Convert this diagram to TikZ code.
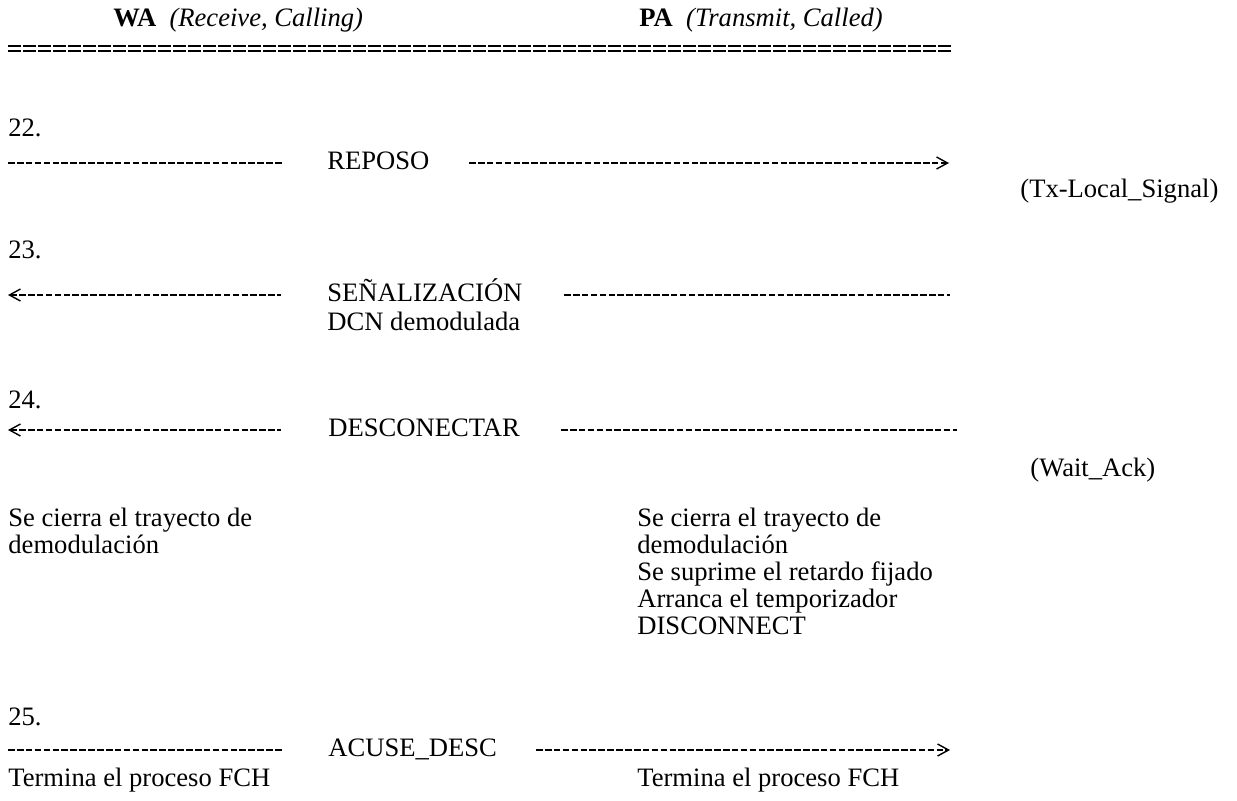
\documentclass[tikz,border=0pt]{standalone}
\usepackage{fontspec}
\setmainfont{Liberation Serif}
\usetikzlibrary{positioning, arrows.meta}

\begin{document}
\begin{tikzpicture}[
    x=0.5pt, y=-0.5pt,
    txt/.style={anchor=base west, inner sep=0pt, font=\fontsize{13.3}{13.5}\selectfont},
    sig/.style={line width=0.8pt, dash pattern=on 3.3pt off 1.15pt, >={Straight Barb[length=5.5pt, width=6pt, line width=0.7pt]}},
    eqline/.style={line width=1pt, dash pattern=on 6.3pt off 1.2pt}
]
    \useasboundingbox (0,0) rectangle (1237,800);

    % Header
    \node[txt] (wa) at (113,26) {\textbf{WA}\ \ \textit{(Receive, Calling)}};
    \node[txt] (pa) at (639,26) {\textbf{PA}\ \ \textit{(Transmit, Called)}};
    \coordinate (eqa) at (8,48);
    \coordinate (eqb) at (952,48);
    \draw[eqline] ([yshift=1.25pt]eqa) -- ([yshift=1.25pt]eqb);
    \draw[eqline] ([yshift=-1.25pt]eqa) -- ([yshift=-1.25pt]eqb);

    % Step 22
    \node[txt] (n22) at (8,136) {22.};
    \node[txt] (reposo) at (327,169) {REPOSO};
    \coordinate (a22) at (8,163);
    \coordinate (b22) at (283,163);
    \coordinate (c22) at (469,163);
    \coordinate (d22) at (949,163);
    \draw[sig] (a22) -- (b22);
    \draw[sig,->] (c22) -- (d22);
    \node[txt] (txlocal) at (1020,197) {(Tx-Local\_Signal)};

    % Step 23
    \node[txt] (n23) at (8,258) {23.};
    \node[txt] (senal) at (327,301) {SEÑALIZACIÓN};
    \node[txt] (dcn) at ([yshift=-14.5pt]senal.base west) {DCN demodulada};
    \coordinate (a23) at (8,295);
    \coordinate (b23) at (281,295);
    \coordinate (c23) at (564,295);
    \coordinate (d23) at (950,295);
    \draw[sig,<-] (a23) -- (b23);
    \draw[sig] (c23) -- (d23);

    % Step 24
    \node[txt] (n24) at (8,408) {24.};
    \node[txt] (desc) at (328,436) {DESCONECTAR};
    \coordinate (a24) at (8,430);
    \coordinate (b24) at (281,430);
    \coordinate (c24) at (561,430);
    \coordinate (d24) at (957,430);
    \draw[sig,<-] (a24) -- (b24);
    \draw[sig] (c24) -- (d24);
    \node[txt] (waitack) at (1030,476) {(Wait\_Ack)};

    \node[txt] (wa1) at (8,526) {Se cierra el trayecto de};
    \node[txt] (wa2) at ([yshift=-13.5pt]wa1.base west) {demodulación};
    \node[txt] (pa1) at (637,526) {Se cierra el trayecto de};
    \node[txt] (pa2) at ([yshift=-13.5pt]pa1.base west) {demodulación};
    \node[txt] (pa3) at ([yshift=-13.5pt]pa2.base west) {Se suprime el retardo fijado};
    \node[txt] (pa4) at ([yshift=-13.5pt]pa3.base west) {Arranca el temporizador};
    \node[txt] (pa5) at ([yshift=-13.5pt]pa4.base west) {DISCONNECT};

    % Step 25
    \node[txt] (n25) at (8,725) {25.};
    \node[txt] (acuse) at (328,756) {ACUSE\_DESC};
    \coordinate (a25) at (8,750);
    \coordinate (b25) at (283,750);
    \coordinate (c25) at (536,750);
    \coordinate (d25) at (950,750);
    \draw[sig] (a25) -- (b25);
    \draw[sig,->] (c25) -- (d25);
    \node[txt] (wafin) at (8,786) {Termina el proceso FCH};
    \node[txt] (pafin) at (637,786) {Termina el proceso FCH};

\end{tikzpicture}
\end{document}
